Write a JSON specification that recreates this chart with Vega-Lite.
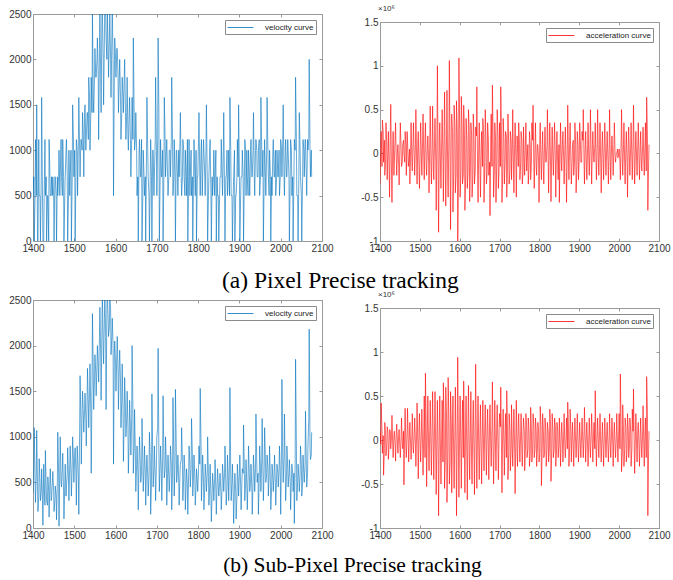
{
"$schema": "https://vega.github.io/schema/vega-lite/v6.json",
"background": "white",
"padding": {"left": 8, "top": 4, "right": 3, "bottom": 2},
"config": {
 "font": "Liberation Sans",
 "view": {"stroke": "#9a9a9a", "strokeWidth": 1},
 "axis": {"domain": false, "grid": false, "tickColor": "#9a9a9a", "tickSize": -3, "labelPadding": 5, "labelFontSize": 10, "labelColor": "#333", "labelFont": "Liberation Sans", "labelFlush": false},
 "legend": {"offset": 6, "labelFontSize": 8, "labelColor": "#222", "labelFont": "Liberation Sans", "symbolType": "M-2.6,0H2.6", "symbolSize": 100, "symbolOffset": 8, "symbolStrokeWidth": 0.8, "padding": 2, "strokeColor": "#8a8a8a", "fillColor": "white", "labelOffset": 19, "cornerRadius": 0},
 "title": {"font": "Liberation Serif", "fontSize": 22, "fontWeight": "normal", "color": "#000"}
},
"datasets": {"tr": [
{"f":1400,"a":500,"b":-0.35,"c":380,"d":0.1},{"f":1403,"a":0,"b":0.25,"c":1100,"d":0.42},{"f":1406,"a":1118,"b":0.38,"c":280,"d":-0.15},{"f":1409,"a":1500,"b":-0.1,"c":1070,"d":-0.4},{"f":1412,"a":0,"b":-0.25,"c":180,"d":0.2},{"f":1415,"a":500,"b":0.35,"c":760,"d":-0.18},{"f":1418,"a":0,"b":-0.3,"c":300,"d":0.15},{"f":1421,"a":1581,"b":0.25,"c":650,"d":-0.22},{"f":1424,"a":0,"b":-0.5,"c":30,"d":0.12},{"f":1427,"a":500,"b":0.56,"c":480,"d":-0.1},
{"f":1430,"a":500,"b":-0.56,"c":850,"d":0.28},{"f":1433,"a":0,"b":0.25,"c":300,"d":-0.2},{"f":1436,"a":500,"b":-0.1,"c":560,"d":0.1},{"f":1439,"a":1118,"b":0.35,"c":120,"d":-0.24},{"f":1442,"a":500,"b":-0.25,"c":650,"d":0.18},{"f":1445,"a":707,"b":0.1,"c":330,"d":-0.15},{"f":1448,"a":707,"b":-0.36,"c":620,"d":0.12},{"f":1451,"a":0,"b":0.35,"c":180,"d":-0.2},{"f":1454,"a":707,"b":-0.15,"c":460,"d":0.25},{"f":1457,"a":0,"b":0.1,"c":90,"d":-0.1},
{"f":1460,"a":500,"b":0,"c":1050,"d":-0.51},{"f":1463,"a":1000,"b":0.25,"c":20,"d":0.36},{"f":1466,"a":707,"b":-0.25,"c":1000,"d":-0.2},{"f":1469,"a":707,"b":0.15,"c":450,"d":0.36},{"f":1472,"a":1118,"b":-0.1,"c":820,"d":-0.25},{"f":1475,"a":0,"b":-0.35,"c":100,"d":0.2},{"f":1478,"a":707,"b":0.35,"c":700,"d":-0.22},{"f":1481,"a":1118,"b":-0.2,"c":450,"d":0.3},{"f":1484,"a":0,"b":0.35,"c":880,"d":-0.15},{"f":1487,"a":1000,"b":-0.25,"c":300,"d":0.25},
{"f":1490,"a":707,"b":0.5,"c":900,"d":-0.3},{"f":1493,"a":0,"b":-0.35,"c":350,"d":0.42},{"f":1496,"a":1500,"b":0.25,"c":1000,"d":-0.44},{"f":1499,"a":707,"b":-0.4,"c":500,"d":0.3},{"f":1502,"a":0,"b":0.35,"c":880,"d":-0.25},{"f":1505,"a":1118,"b":-0.25,"c":250,"d":0.35},{"f":1508,"a":500,"b":0.45,"c":800,"d":-0.4},{"f":1511,"a":1581,"b":-0.3,"c":150,"d":0.5},{"f":1514,"a":707,"b":0.35,"c":1670,"d":0.76},{"f":1517,"a":1118,"b":-0.25,"c":700,"d":-0.53},
{"f":1520,"a":1414,"b":0.2,"c":1500,"d":0.5},{"f":1523,"a":707,"b":-0.45,"c":1050,"d":-0.35},{"f":1526,"a":1500,"b":0.54,"c":1480,"d":0.45},{"f":1529,"a":1118,"b":-0.35,"c":900,"d":-0.4},{"f":1532,"a":1414,"b":0.54,"c":1750,"d":0.55},{"f":1535,"a":1803,"b":-0.3,"c":1100,"d":-0.45},{"f":1538,"a":1000,"b":0.4,"c":1800,"d":0.55},{"f":1541,"a":1803,"b":-0.65,"c":600,"d":-0.62},{"f":1544,"a":2500,"b":1.0,"c":2350,"d":0.45},{"f":1547,"a":1414,"b":-0.9,"c":1300,"d":-0.86},
{"f":1550,"a":2121,"b":0.35,"c":1900,"d":0.5},{"f":1553,"a":1803,"b":-0.4,"c":1450,"d":-0.5},{"f":1556,"a":2236,"b":0.5,"c":2000,"d":0.45},{"f":1559,"a":1118,"b":-0.55,"c":1600,"d":0.65},{"f":1562,"a":2500,"b":0.7,"c":2420,"d":-0.55},{"f":1565,"a":1414,"b":-0.6,"c":1400,"d":0.6},{"f":1568,"a":2550,"b":0.72,"c":2600,"d":-0.71},{"f":1571,"a":1500,"b":-0.5,"c":1800,"d":0.71},{"f":1574,"a":2828,"b":1.06,"c":2600,"d":-0.5},{"f":1577,"a":2236,"b":-0.87,"c":1300,"d":0.55},
{"f":1580,"a":2550,"b":0.45,"c":2600,"d":-0.6},{"f":1583,"a":1803,"b":-0.67,"c":2100,"d":0.5},{"f":1586,"a":2500,"b":0.55,"c":2550,"d":-0.55},{"f":1589,"a":1581,"b":-0.45,"c":1900,"d":0.6},{"f":1592,"a":2550,"b":0.6,"c":2300,"d":-0.86},{"f":1595,"a":500,"b":-1.1,"c":700,"d":0.94},{"f":1598,"a":2236,"b":1.09,"c":2050,"d":-0.65},{"f":1601,"a":1803,"b":-0.5,"c":1500,"d":0.5},{"f":1604,"a":2121,"b":0.65,"c":2100,"d":-0.55},{"f":1607,"a":1414,"b":-0.35,"c":1300,"d":0.45},
{"f":1610,"a":2000,"b":0.55,"c":1950,"d":0.67},{"f":1613,"a":1118,"b":-0.65,"c":1100,"d":-0.6},{"f":1616,"a":1803,"b":0.4,"c":1800,"d":0.5},{"f":1619,"a":1414,"b":-0.4,"c":730,"d":-0.68},{"f":1622,"a":2000,"b":0.5,"c":1650,"d":0.62},{"f":1625,"a":1118,"b":-0.55,"c":1000,"d":-0.45},{"f":1628,"a":1803,"b":0.35,"c":1500,"d":0.55},{"f":1631,"a":1000,"b":-0.5,"c":600,"d":-0.5},{"f":1634,"a":1581,"b":0.45,"c":1400,"d":0.45},{"f":1637,"a":707,"b":-0.35,"c":800,"d":-0.62},
{"f":1640,"a":1581,"b":0.3,"c":2000,"d":0.86},{"f":1643,"a":2236,"b":0.76,"c":600,"d":-0.55},{"f":1646,"a":1000,"b":-0.56,"c":1300,"d":0.5},{"f":1649,"a":1414,"b":0.35,"c":400,"d":-0.45},{"f":1652,"a":500,"b":-0.5,"c":900,"d":0.4},{"f":1655,"a":0,"b":0.25,"c":200,"d":-0.5},{"f":1658,"a":1118,"b":0.4,"c":1000,"d":0.45},{"f":1661,"a":707,"b":-0.56,"c":500,"d":-0.35},{"f":1664,"a":0,"b":0.5,"c":1200,"d":0.4},{"f":1667,"a":1000,"b":-0.35,"c":400,"d":-0.4},
{"f":1670,"a":500,"b":0.35,"c":900,"d":0.35},{"f":1673,"a":0,"b":-0.25,"c":250,"d":-0.45},{"f":1676,"a":1581,"b":-0.71,"c":800,"d":0.4},{"f":1679,"a":707,"b":0.45,"c":350,"d":-0.3},{"f":1682,"a":0,"b":0.78,"c":1050,"d":0.66},{"f":1685,"a":1118,"b":-0.5,"c":150,"d":-0.5},{"f":1688,"a":0,"b":0.35,"c":1470,"d":0.45},{"f":1691,"a":1000,"b":-0.56,"c":450,"d":-0.35},{"f":1694,"a":707,"b":0.5,"c":900,"d":0.4},{"f":1697,"a":1803,"b":-0.4,"c":300,"d":-0.45},
{"f":1700,"a":500,"b":0.35,"c":1000,"d":0.3},{"f":1703,"a":2236,"b":0.76,"c":1970,"d":0.6},{"f":1706,"a":0,"b":-0.56,"c":400,"d":-0.6},{"f":1709,"a":1118,"b":0.4,"c":900,"d":0.35},{"f":1712,"a":707,"b":-0.35,"c":300,"d":-0.4},{"f":1715,"a":0,"b":0.25,"c":1450,"d":0.3},{"f":1718,"a":1581,"b":-0.5,"c":550,"d":0.56},{"f":1721,"a":707,"b":0.45,"c":1000,"d":-0.45},{"f":1724,"a":1118,"b":-0.35,"c":250,"d":0.3},{"f":1727,"a":500,"b":0.25,"c":800,"d":-0.35},
{"f":1730,"a":1000,"b":-0.3,"c":400,"d":0.4},{"f":1733,"a":707,"b":0.5,"c":900,"d":-0.3},{"f":1736,"a":1803,"b":-0.45,"c":200,"d":0.35},{"f":1739,"a":500,"b":0.35,"c":1430,"d":-0.61},{"f":1742,"a":1118,"b":-0.5,"c":350,"d":0.45},{"f":1745,"a":0,"b":0.1,"c":1520,"d":-0.3},{"f":1748,"a":1000,"b":0.35,"c":500,"d":0.3},{"f":1751,"a":500,"b":-0.3,"c":800,"d":-0.25},{"f":1754,"a":707,"b":0.25,"c":250,"d":0.3},{"f":1757,"a":1414,"b":-0.35,"c":700,"d":-0.3},
{"f":1760,"a":500,"b":0.3,"c":1100,"d":0.25},{"f":1763,"a":1118,"b":-0.25,"c":300,"d":-0.35},{"f":1766,"a":707,"b":0.35,"c":800,"d":0.3},{"f":1769,"a":1000,"b":-0.1,"c":200,"d":-0.2},{"f":1772,"a":500,"b":-0.35,"c":650,"d":0.25},{"f":1775,"a":0,"b":0.25,"c":150,"d":-0.3},{"f":1778,"a":1118,"b":-0.3,"c":900,"d":0.37},{"f":1781,"a":707,"b":0.35,"c":450,"d":-0.25},{"f":1784,"a":500,"b":0.55,"c":1200,"d":0.3},{"f":1787,"a":0,"b":-0.4,"c":350,"d":-0.2},
{"f":1790,"a":1118,"b":0.35,"c":800,"d":0.25},{"f":1793,"a":500,"b":-0.25,"c":250,"d":-0.3},{"f":1796,"a":0,"b":0.1,"c":650,"d":0.2},{"f":1799,"a":707,"b":-0.56,"c":400,"d":-0.25},{"f":1802,"a":1414,"b":0.35,"c":900,"d":0.38},{"f":1805,"a":500,"b":-0.3,"c":1530,"d":-0.52},{"f":1808,"a":1118,"b":0.25,"c":300,"d":0.3},{"f":1811,"a":707,"b":-0.35,"c":800,"d":-0.2},{"f":1814,"a":1000,"b":0.3,"c":200,"d":0.25},{"f":1817,"a":500,"b":-0.1,"c":700,"d":-0.3},
{"f":1820,"a":1500,"b":0.5,"c":400,"d":0.2},{"f":1823,"a":0,"b":-0.45,"c":1000,"d":-0.25},{"f":1826,"a":707,"b":0.35,"c":250,"d":0.35},{"f":1829,"a":1118,"b":-0.55,"c":700,"d":-0.47},{"f":1832,"a":0,"b":0.3,"c":70,"d":0.3},{"f":1835,"a":500,"b":-0.25,"c":600,"d":-0.2},{"f":1838,"a":1000,"b":0.35,"c":300,"d":0.25},{"f":1841,"a":707,"b":-0.5,"c":750,"d":-0.3},{"f":1844,"a":0,"b":0.25,"c":150,"d":0.2},{"f":1847,"a":500,"b":-0.3,"c":650,"d":-0.2},
{"f":1850,"a":0,"b":-0.56,"c":350,"d":0.25},{"f":1853,"a":707,"b":0.35,"c":600,"d":-0.3},{"f":1856,"a":1118,"b":-0.2,"c":200,"d":0.2},{"f":1859,"a":500,"b":0.25,"c":700,"d":-0.25},{"f":1862,"a":1414,"b":-0.35,"c":400,"d":0.3},{"f":1865,"a":0,"b":0.3,"c":900,"d":-0.2},{"f":1868,"a":707,"b":-0.56,"c":250,"d":0.25},{"f":1871,"a":500,"b":0.55,"c":800,"d":0.43},{"f":1874,"a":1000,"b":-0.3,"c":300,"d":-0.3},{"f":1877,"a":1581,"b":0.35,"c":1540,"d":0.35},
{"f":1880,"a":500,"b":-0.35,"c":300,"d":-0.25},{"f":1883,"a":0,"b":0.1,"c":700,"d":0.2},{"f":1886,"a":707,"b":-0.25,"c":50,"d":-0.3},{"f":1889,"a":0,"b":0.35,"c":600,"d":0.25},{"f":1892,"a":500,"b":-0.45,"c":100,"d":-0.2},{"f":1895,"a":1118,"b":0.25,"c":700,"d":0.3},{"f":1898,"a":1500,"b":-0.3,"c":350,"d":-0.25},{"f":1901,"a":0,"b":0.35,"c":800,"d":0.2},{"f":1904,"a":707,"b":-0.1,"c":200,"d":-0.2},{"f":1907,"a":1000,"b":0.25,"c":650,"d":0.25},
{"f":1910,"a":0,"b":0.5,"c":1130,"d":-0.2},{"f":1913,"a":1118,"b":-0.35,"c":300,"d":0.37},{"f":1916,"a":500,"b":0.25,"c":750,"d":-0.25},{"f":1919,"a":707,"b":-0.3,"c":200,"d":0.2},{"f":1922,"a":1000,"b":0.35,"c":900,"d":-0.3},{"f":1925,"a":500,"b":-0.25,"c":400,"d":0.25},{"f":1928,"a":1118,"b":0.5,"c":700,"d":-0.2},{"f":1931,"a":707,"b":-0.35,"c":150,"d":0.3},{"f":1934,"a":1414,"b":0.25,"c":800,"d":-0.25},{"f":1937,"a":500,"b":-0.1,"c":400,"d":0.2},
{"f":1940,"a":1118,"b":0.35,"c":1250,"d":0.56},{"f":1943,"a":707,"b":-0.3,"c":500,"d":-0.3},{"f":1946,"a":1000,"b":0.5,"c":150,"d":0.25},{"f":1949,"a":500,"b":-0.25,"c":900,"d":-0.2},{"f":1952,"a":1581,"b":0.35,"c":400,"d":0.3},{"f":1955,"a":707,"b":-0.45,"c":1200,"d":-0.25},{"f":1958,"a":0,"b":0.25,"c":300,"d":0.2},{"f":1961,"a":1118,"b":-0.3,"c":1100,"d":-0.3},{"f":1964,"a":500,"b":0.35,"c":500,"d":0.25},{"f":1967,"a":1581,"b":-0.25,"c":800,"d":-0.2},
{"f":1970,"a":707,"b":0.25,"c":350,"d":0.2},{"f":1973,"a":1000,"b":-0.35,"c":900,"d":-0.25},{"f":1976,"a":0,"b":0.5,"c":200,"d":0.3},{"f":1979,"a":500,"b":-0.3,"c":700,"d":-0.2},{"f":1982,"a":1118,"b":0.2,"c":400,"d":0.25},{"f":1985,"a":707,"b":-0.25,"c":800,"d":-0.3},{"f":1988,"a":500,"b":0.35,"c":250,"d":0.2},{"f":1991,"a":1000,"b":-0.1,"c":700,"d":-0.2},{"f":1994,"a":707,"b":0,"c":450,"d":0.3},{"f":1997,"a":500,"b":-0.05,"c":900,"d":-0.25},
{"f":2000,"a":1118,"b":0.05,"c":150,"d":0.3},{"f":2003,"a":707,"b":-0.3,"c":1630,"d":0.75},{"f":2006,"a":1500,"b":0.5,"c":500,"d":-0.36},{"f":2009,"a":500,"b":-0.25,"c":1250,"d":0.4},{"f":2012,"a":1118,"b":0.35,"c":300,"d":-0.3},{"f":2015,"a":707,"b":-0.35,"c":900,"d":0.25},{"f":2018,"a":1000,"b":0.25,"c":450,"d":-0.25},{"f":2021,"a":0,"b":-0.5,"c":750,"d":0.3},{"f":2024,"a":1118,"b":0.3,"c":200,"d":-0.2},{"f":2027,"a":500,"b":-0.25,"c":700,"d":0.25},
{"f":2030,"a":0,"b":0.35,"c":400,"d":-0.3},{"f":2033,"a":1118,"b":-0.3,"c":50,"d":0.35},{"f":2036,"a":1803,"b":0.55,"c":1850,"d":0.58},{"f":2039,"a":500,"b":-0.35,"c":300,"d":-0.38},{"f":2042,"a":0,"b":0.25,"c":700,"d":0.3},{"f":2045,"a":1414,"b":-0.25,"c":400,"d":-0.25},{"f":2048,"a":707,"b":0.35,"c":900,"d":0.2},{"f":2051,"a":0,"b":-0.3,"c":350,"d":-0.3},{"f":2054,"a":1118,"b":0.25,"c":800,"d":0.25},{"f":2057,"a":707,"b":-0.2,"c":500,"d":-0.2},
{"f":2060,"a":1118,"b":0.3,"c":1280,"d":0.39},{"f":2063,"a":500,"b":-0.25,"c":450,"d":-0.3},{"f":2066,"a":1000,"b":0.35,"c":900,"d":0.25},{"f":2069,"a":2000,"b":0.64,"c":2180,"d":0.72},{"f":2072,"a":707,"b":-0.65,"c":750,"d":-0.86},{"f":2075,"a":707,"b":0.1,"c":1050,"d":0.1},
{"f":1402,"a":707,"b":0.1,"c":700,"d":-0.05},{"f":1405,"a":500,"b":-0.15,"c":500,"d":0.1},{"f":1408,"a":500,"b":0.25,"c":600,"d":0.05},{"f":1411,"a":0,"b":0.15,"c":450,"d":-0.1},{"f":1414,"a":1118,"b":-0.1,"c":350,"d":0.05},{"f":1417,"a":500,"b":0.1,"c":500,"d":-0.05},{"f":1420,"a":707,"b":0.05,"c":400,"d":0.08},{"f":1423,"a":500,"b":-0.2,"c":300,"d":-0.05},{"f":1426,"a":0,"b":0.3,"c":700,"d":0.1},{"f":1429,"a":1118,"b":-0.25,"c":250,"d":0.05},
{"f":1432,"a":707,"b":0.1,"c":450,"d":-0.08},{"f":1435,"a":500,"b":-0.25,"c":250,"d":0.05},{"f":1438,"a":0,"b":0.2,"c":400,"d":-0.05},{"f":1441,"a":707,"b":-0.1,"c":550,"d":0.1},{"f":1444,"a":500,"b":0.05,"c":300,"d":-0.05},{"f":1447,"a":500,"b":-0.15,"c":500,"d":0.06},{"f":1450,"a":500,"b":0.1,"c":400,"d":-0.1},{"f":1453,"a":707,"b":0.05,"c":300,"d":0.05},{"f":1456,"a":500,"b":-0.1,"c":350,"d":-0.05},{"f":1459,"a":707,"b":0.15,"c":500,"d":0.1},
{"f":1462,"a":707,"b":-0.1,"c":600,"d":0.1},{"f":1465,"a":500,"b":0.1,"c":700,"d":-0.1},{"f":1468,"a":1118,"b":0.25,"c":500,"d":0.08},{"f":1471,"a":500,"b":-0.15,"c":650,"d":-0.05},{"f":1474,"a":707,"b":0.05,"c":400,"d":0.1},{"f":1477,"a":500,"b":0.1,"c":500,"d":-0.08},{"f":1480,"a":1000,"b":-0.1,"c":350,"d":0.05},{"f":1483,"a":707,"b":0.15,"c":600,"d":-0.1},{"f":1486,"a":500,"b":-0.05,"c":550,"d":0.08},{"f":1489,"a":500,"b":0.1,"c":700,"d":-0.05},
{"f":1492,"a":1000,"b":-0.1,"c":600,"d":0.1},{"f":1495,"a":707,"b":0.15,"c":700,"d":-0.1},{"f":1498,"a":1118,"b":-0.2,"c":750,"d":0.15},{"f":1501,"a":1000,"b":0.1,"c":800,"d":-0.1},{"f":1504,"a":707,"b":-0.05,"c":600,"d":0.12},{"f":1507,"a":1000,"b":0.15,"c":900,"d":-0.1},{"f":1510,"a":1118,"b":-0.1,"c":550,"d":0.15},{"f":1513,"a":1000,"b":0.2,"c":1100,"d":-0.2},{"f":1516,"a":1118,"b":-0.15,"c":1200,"d":0.1},{"f":1519,"a":1000,"b":0.1,"c":1300,"d":0.15},
{"f":1522,"a":1118,"b":-0.1,"c":1250,"d":-0.1},{"f":1525,"a":1414,"b":0.2,"c":1300,"d":0.15},{"f":1528,"a":1000,"b":-0.15,"c":1200,"d":-0.15},{"f":1531,"a":1414,"b":0.1,"c":1400,"d":0.2},{"f":1534,"a":1118,"b":-0.2,"c":1350,"d":-0.15},{"f":1537,"a":1581,"b":0.15,"c":1500,"d":0.2},{"f":1540,"a":1414,"b":-0.1,"c":1250,"d":-0.2},{"f":1543,"a":1414,"b":0.25,"c":1600,"d":0.15},{"f":1546,"a":1581,"b":-0.3,"c":1700,"d":-0.25},{"f":1549,"a":1803,"b":0.2,"c":1650,"d":0.2},
{"f":1552,"a":1803,"b":-0.2,"c":1700,"d":-0.2},{"f":1555,"a":2000,"b":0.25,"c":1800,"d":0.15},{"f":1558,"a":1803,"b":-0.1,"c":1750,"d":-0.25},{"f":1561,"a":2121,"b":0.3,"c":2100,"d":0.2},{"f":1564,"a":1803,"b":-0.25,"c":1900,"d":-0.2},{"f":1567,"a":2500,"b":0.2,"c":2200,"d":0.25},{"f":1570,"a":2000,"b":-0.3,"c":2000,"d":-0.15},{"f":1573,"a":2236,"b":0.25,"c":2300,"d":0.2},{"f":1576,"a":2500,"b":-0.2,"c":2100,"d":-0.25},{"f":1579,"a":2000,"b":0.3,"c":2400,"d":0.15},
{"f":1582,"a":2121,"b":0.25,"c":2300,"d":0.2},{"f":1585,"a":2236,"b":-0.2,"c":2200,"d":-0.25},{"f":1588,"a":2000,"b":0.3,"c":2400,"d":0.15},{"f":1591,"a":2236,"b":-0.25,"c":2100,"d":-0.2},{"f":1594,"a":2000,"b":0.2,"c":2000,"d":0.25},{"f":1597,"a":1803,"b":-0.3,"c":1900,"d":-0.2},{"f":1600,"a":2000,"b":0.25,"c":1800,"d":0.2},{"f":1603,"a":2121,"b":-0.2,"c":1900,"d":-0.15},{"f":1606,"a":1803,"b":0.3,"c":1700,"d":0.2},{"f":1609,"a":1803,"b":-0.25,"c":1800,"d":-0.2},
{"f":1612,"a":1581,"b":0.2,"c":1600,"d":-0.2},{"f":1615,"a":1414,"b":-0.25,"c":1400,"d":0.25},{"f":1618,"a":1581,"b":0.15,"c":1300,"d":-0.2},{"f":1621,"a":1803,"b":-0.2,"c":1200,"d":0.3},{"f":1624,"a":1414,"b":0.25,"c":1300,"d":-0.25},{"f":1627,"a":1414,"b":-0.15,"c":1200,"d":0.2},{"f":1630,"a":1118,"b":0.2,"c":1100,"d":-0.3},{"f":1633,"a":1414,"b":-0.25,"c":1000,"d":0.25},{"f":1636,"a":1118,"b":0.15,"c":1100,"d":-0.2},{"f":1639,"a":1118,"b":-0.2,"c":1200,"d":0.3},
{"f":1642,"a":1118,"b":0.2,"c":1300,"d":-0.25},{"f":1645,"a":1414,"b":-0.25,"c":900,"d":0.2},{"f":1648,"a":1118,"b":0.15,"c":800,"d":-0.2},{"f":1651,"a":1000,"b":-0.2,"c":700,"d":0.15},{"f":1654,"a":707,"b":0.1,"c":600,"d":-0.2},{"f":1657,"a":1000,"b":-0.15,"c":800,"d":0.15},{"f":1660,"a":707,"b":0.2,"c":700,"d":-0.15},{"f":1663,"a":1118,"b":-0.1,"c":600,"d":0.2},{"f":1666,"a":500,"b":0.15,"c":750,"d":-0.15},{"f":1669,"a":707,"b":-0.2,"c":650,"d":0.2},
{"f":1672,"a":707,"b":0.15,"c":600,"d":-0.15},{"f":1675,"a":1000,"b":-0.1,"c":700,"d":0.2},{"f":1678,"a":1000,"b":0.2,"c":550,"d":-0.1},{"f":1681,"a":500,"b":-0.15,"c":600,"d":0.15},{"f":1684,"a":707,"b":0.1,"c":750,"d":-0.2},{"f":1687,"a":707,"b":-0.2,"c":500,"d":0.1},{"f":1690,"a":1000,"b":0.15,"c":800,"d":-0.15},{"f":1693,"a":500,"b":-0.1,"c":650,"d":0.2},{"f":1696,"a":1118,"b":0.2,"c":550,"d":-0.1},{"f":1699,"a":1000,"b":-0.15,"c":700,"d":0.15},
{"f":1702,"a":1118,"b":-0.15,"c":1100,"d":0.15},{"f":1705,"a":1414,"b":0.1,"c":800,"d":-0.15},{"f":1708,"a":707,"b":-0.2,"c":700,"d":0.2},{"f":1711,"a":707,"b":0.15,"c":600,"d":-0.1},{"f":1714,"a":1000,"b":-0.1,"c":750,"d":0.15},{"f":1717,"a":707,"b":0.2,"c":800,"d":-0.2},{"f":1720,"a":1118,"b":-0.15,"c":650,"d":0.1},{"f":1723,"a":1000,"b":0.1,"c":700,"d":-0.15},{"f":1726,"a":707,"b":-0.2,"c":600,"d":0.1},{"f":1729,"a":707,"b":0.15,"c":550,"d":-0.1},
{"f":1732,"a":1000,"b":0.1,"c":650,"d":-0.1},{"f":1735,"a":1118,"b":-0.2,"c":700,"d":0.15},{"f":1738,"a":1118,"b":0.15,"c":600,"d":-0.15},{"f":1741,"a":707,"b":-0.1,"c":800,"d":0.1},{"f":1744,"a":707,"b":0.2,"c":700,"d":-0.15},{"f":1747,"a":1000,"b":-0.15,"c":900,"d":0.2},{"f":1750,"a":707,"b":0.1,"c":650,"d":-0.1},{"f":1753,"a":1000,"b":-0.1,"c":500,"d":0.1},{"f":1756,"a":1118,"b":0.15,"c":600,"d":-0.15},{"f":1759,"a":707,"b":-0.2,"c":750,"d":0.1},
{"f":1762,"a":707,"b":-0.1,"c":700,"d":0.1},{"f":1765,"a":1000,"b":0.15,"c":550,"d":-0.1},{"f":1768,"a":500,"b":-0.2,"c":600,"d":0.15},{"f":1771,"a":707,"b":0.1,"c":500,"d":-0.1},{"f":1774,"a":1118,"b":-0.15,"c":450,"d":0.1},{"f":1777,"a":707,"b":0.1,"c":600,"d":-0.15},{"f":1780,"a":500,"b":-0.1,"c":700,"d":0.1},{"f":1783,"a":1000,"b":0.15,"c":650,"d":-0.1},{"f":1786,"a":707,"b":-0.15,"c":800,"d":0.15},{"f":1789,"a":707,"b":0.1,"c":600,"d":-0.1},
{"f":1792,"a":707,"b":-0.15,"c":550,"d":0.1},{"f":1795,"a":1000,"b":0.1,"c":450,"d":-0.1},{"f":1798,"a":707,"b":-0.1,"c":500,"d":0.1},{"f":1801,"a":1118,"b":0.2,"c":650,"d":-0.15},{"f":1804,"a":707,"b":-0.15,"c":700,"d":0.15},{"f":1807,"a":1000,"b":0.1,"c":900,"d":-0.1},{"f":1810,"a":500,"b":-0.2,"c":600,"d":0.1},{"f":1813,"a":1118,"b":0.15,"c":500,"d":-0.15},{"f":1816,"a":707,"b":-0.1,"c":450,"d":0.1},{"f":1819,"a":1000,"b":0.1,"c":550,"d":-0.1},
{"f":1822,"a":707,"b":-0.1,"c":600,"d":0.1},{"f":1825,"a":500,"b":0.15,"c":550,"d":-0.1},{"f":1828,"a":1000,"b":-0.15,"c":450,"d":0.15},{"f":1831,"a":500,"b":0.1,"c":350,"d":-0.1},{"f":1834,"a":707,"b":-0.1,"c":400,"d":0.1},{"f":1837,"a":707,"b":0.15,"c":450,"d":-0.1},{"f":1840,"a":500,"b":-0.1,"c":550,"d":0.15},{"f":1843,"a":1000,"b":0.1,"c":400,"d":-0.1},{"f":1846,"a":707,"b":-0.15,"c":500,"d":0.1},{"f":1849,"a":500,"b":0.1,"c":450,"d":-0.05},
{"f":1852,"a":500,"b":0.1,"c":500,"d":-0.1},{"f":1855,"a":707,"b":-0.1,"c":400,"d":0.1},{"f":1858,"a":707,"b":0.15,"c":450,"d":-0.05},{"f":1861,"a":1000,"b":-0.1,"c":550,"d":0.1},{"f":1864,"a":500,"b":0.1,"c":600,"d":-0.1},{"f":1867,"a":707,"b":-0.15,"c":500,"d":0.05},{"f":1870,"a":1000,"b":0.1,"c":450,"d":-0.1},{"f":1873,"a":707,"b":-0.1,"c":550,"d":0.1},{"f":1876,"a":500,"b":0.15,"c":700,"d":-0.05},{"f":1879,"a":1000,"b":-0.1,"c":600,"d":0.1},
{"f":1882,"a":500,"b":-0.1,"c":500,"d":0.05},{"f":1885,"a":500,"b":0.15,"c":350,"d":-0.1},{"f":1888,"a":1000,"b":-0.1,"c":450,"d":0.1},{"f":1891,"a":500,"b":0.1,"c":400,"d":-0.05},{"f":1894,"a":707,"b":-0.15,"c":350,"d":0.1},{"f":1897,"a":707,"b":0.1,"c":500,"d":-0.1},{"f":1900,"a":707,"b":-0.05,"c":600,"d":0.05},{"f":1903,"a":500,"b":0.1,"c":450,"d":-0.1},{"f":1906,"a":707,"b":-0.1,"c":500,"d":0.1},{"f":1909,"a":707,"b":0.15,"c":600,"d":-0.05},
{"f":1912,"a":707,"b":-0.1,"c":600,"d":0.1},{"f":1915,"a":1000,"b":0.1,"c":500,"d":-0.05},{"f":1918,"a":1000,"b":-0.15,"c":450,"d":0.1},{"f":1921,"a":500,"b":0.1,"c":550,"d":-0.1},{"f":1924,"a":707,"b":-0.1,"c":600,"d":0.05},{"f":1927,"a":1000,"b":0.15,"c":500,"d":-0.1},{"f":1930,"a":707,"b":-0.1,"c":450,"d":0.1},{"f":1933,"a":1000,"b":0.1,"c":500,"d":-0.05},{"f":1936,"a":707,"b":-0.05,"c":600,"d":0.1},{"f":1939,"a":1000,"b":0.1,"c":650,"d":-0.1},
{"f":1942,"a":1000,"b":-0.1,"c":700,"d":-0.1},{"f":1945,"a":707,"b":0.15,"c":600,"d":0.1},{"f":1948,"a":1118,"b":-0.1,"c":550,"d":-0.05},{"f":1951,"a":707,"b":0.1,"c":650,"d":0.1},{"f":1954,"a":1000,"b":-0.15,"c":750,"d":-0.1},{"f":1957,"a":1000,"b":0.1,"c":600,"d":0.05},{"f":1960,"a":707,"b":-0.1,"c":650,"d":-0.1},{"f":1963,"a":707,"b":0.15,"c":750,"d":0.1},{"f":1966,"a":1000,"b":-0.1,"c":600,"d":-0.05},{"f":1969,"a":1000,"b":0.1,"c":650,"d":0.1},
{"f":1972,"a":500,"b":-0.1,"c":600,"d":-0.1},{"f":1975,"a":707,"b":0.1,"c":500,"d":0.05},{"f":1978,"a":707,"b":-0.15,"c":450,"d":-0.1},{"f":1981,"a":1000,"b":0.1,"c":550,"d":0.1},{"f":1984,"a":707,"b":-0.05,"c":600,"d":-0.05},{"f":1987,"a":1000,"b":0.1,"c":500,"d":0.1},{"f":1990,"a":707,"b":-0.05,"c":550,"d":-0.1},{"f":1993,"a":707,"b":0,"c":600,"d":0.05},{"f":1996,"a":1000,"b":0.05,"c":650,"d":-0.1},{"f":1999,"a":707,"b":0,"c":550,"d":0.1},
{"f":2002,"a":1000,"b":-0.1,"c":900,"d":-0.1},{"f":2005,"a":1118,"b":0.15,"c":700,"d":0.15},{"f":2008,"a":707,"b":-0.1,"c":800,"d":-0.15},{"f":2011,"a":1000,"b":0.1,"c":600,"d":0.1},{"f":2014,"a":707,"b":-0.15,"c":550,"d":-0.1},{"f":2017,"a":1118,"b":0.1,"c":650,"d":0.15},{"f":2020,"a":707,"b":-0.1,"c":600,"d":-0.1},{"f":2023,"a":707,"b":0.15,"c":500,"d":0.1},{"f":2026,"a":1000,"b":-0.1,"c":550,"d":-0.05},{"f":2029,"a":707,"b":0.1,"c":600,"d":0.1},
{"f":2032,"a":707,"b":-0.1,"c":600,"d":-0.1},{"f":2035,"a":1000,"b":0.15,"c":700,"d":0.1},{"f":2038,"a":1118,"b":-0.15,"c":900,"d":-0.15},{"f":2041,"a":500,"b":0.1,"c":500,"d":0.1},{"f":2044,"a":707,"b":-0.1,"c":550,"d":-0.1},{"f":2047,"a":1000,"b":0.15,"c":600,"d":0.15},{"f":2050,"a":500,"b":-0.1,"c":700,"d":-0.1},{"f":2053,"a":707,"b":0.1,"c":500,"d":0.1},{"f":2056,"a":1000,"b":-0.15,"c":600,"d":-0.1},{"f":2059,"a":1118,"b":0.1,"c":700,"d":0.1},
{"f":2062,"a":707,"b":-0.1,"c":700,"d":-0.1},{"f":2065,"a":1118,"b":0.15,"c":600,"d":0.15},{"f":2068,"a":1118,"b":-0.2,"c":1200,"d":-0.2},{"f":2071,"a":1000,"b":0.2,"c":900,"d":0.3},{"f":2074,"a":1000,"b":-0.1,"c":800,"d":-0.1}
]},
"spacing": -2,
"resolve": {"scale": {"x": "independent", "y": "independent", "color": "shared"}, "legend": {"color": "independent"}},
"vconcat": [
 {
  "title": {"text": "(a) Pixel Precise tracking", "orient": "bottom", "anchor": "middle", "baseline": "alphabetic", "offset": 34, "dx": 1, "fontSize": 23.5},
  "bounds": "flush",
  "spacing": 58,
  "resolve": {"scale": {"x": "independent", "y": "independent", "color": "shared"}, "legend": {"color": "independent"}},
  "hconcat": [
   {
    "width": 289, "height": 227,
    "data": {"name": "tr"},
    "layer": [
     {"mark": {"type": "line", "clip": true, "strokeWidth": 0.6},
      "encoding": {
       "x": {"field": "f", "type": "quantitative", "scale": {"domain": [1400, 2100], "nice": false, "zero": false}, "axis": {"values": [1400,1500,1600,1700,1800,1900,2000,2100], "format": "d", "title": null}},
       "y": {"field": "a", "type": "quantitative", "scale": {"domain": [0, 2500], "nice": false}, "axis": {"values": [0,500,1000,1500,2000,2500], "format": "d", "title": null}},
       "color": {"datum": "velocity curve", "type": "nominal", "scale": {"domain": ["velocity curve", "acceleration curve"], "range": ["#0072BD", "#FF0000"]}, "legend": {"title": null, "orient": "top-right", "offset": 6, "values": ["velocity curve"], "symbolStrokeColor": "#0072BD"}}
      }},
     {"mark": {"type": "line", "opacity": 0, "clip": true},
      "encoding": {
       "x": {"field": "f", "type": "quantitative", "axis": {"orient": "top", "labels": false, "values": [1400,1500,1600,1700,1800,1900,2000,2100], "title": null}},
       "y": {"field": "a", "type": "quantitative", "axis": {"orient": "right", "labels": false, "values": [0,500,1000,1500,2000,2500], "title": null}}
      }}
    ],
    "resolve": {"axis": {"x": "independent", "y": "independent"}}
   },
   {
    "bounds": "flush",
    "spacing": 0,
    "resolve": {"scale": {"x": "independent", "y": "independent", "color": "shared"}, "legend": {"color": "independent"}},
    "vconcat": [
     {"width": 279, "height": 8, "view": {"stroke": null}, "data": {"values": [{"k": 0}]}, "mark": {"type": "point", "opacity": 0, "size": 1}, "encoding": {}},
     {
      "width": 279, "height": 219,
      "title": {"text": "×10⁶", "anchor": "start", "frame": "group", "font": "Liberation Sans", "fontSize": 8, "color": "#333", "offset": 4, "dx": -2},
      "data": {"name": "tr"},
      "layer": [
       {"mark": {"type": "line", "clip": true, "strokeWidth": 0.6},
        "encoding": {
         "x": {"field": "f", "type": "quantitative", "scale": {"domain": [1400, 2100], "nice": false, "zero": false}, "axis": {"values": [1400,1500,1600,1700,1800,1900,2000,2100], "format": "d", "title": null}},
         "y": {"field": "b", "type": "quantitative", "scale": {"domain": [-1, 1.5], "nice": false}, "axis": {"values": [-1,-0.5,0,0.5,1,1.5], "labelExpr": "datum.value + ''", "title": null}},
         "color": {"datum": "acceleration curve", "type": "nominal", "scale": {"domain": ["velocity curve", "acceleration curve"], "range": ["#0072BD", "#FF0000"]}, "legend": {"title": null, "orient": "top-right", "offset": 6, "values": ["acceleration curve"], "symbolStrokeColor": "#FF0000"}}
        }},
       {"mark": {"type": "line", "opacity": 0, "clip": true},
        "encoding": {
         "x": {"field": "f", "type": "quantitative", "axis": {"orient": "top", "labels": false, "values": [1400,1500,1600,1700,1800,1900,2000,2100], "title": null}},
         "y": {"field": "b", "type": "quantitative", "axis": {"orient": "right", "labels": false, "values": [-1,-0.5,0,0.5,1,1.5], "title": null}}
        }}
      ],
      "resolve": {"axis": {"x": "independent", "y": "independent"}}
     }
    ]
   }
  ]
 },
 {
  "title": {"text": "(b) Sub-Pixel Precise tracking", "orient": "bottom", "anchor": "middle", "baseline": "alphabetic", "offset": 31, "dx": 13, "fontSize": 21.5},
  "bounds": "flush",
  "spacing": 58,
  "resolve": {"scale": {"x": "independent", "y": "independent", "color": "shared"}, "legend": {"color": "independent"}},
  "hconcat": [
   {
    "width": 289, "height": 228,
    "data": {"name": "tr"},
    "layer": [
     {"mark": {"type": "line", "clip": true, "strokeWidth": 0.6},
      "encoding": {
       "x": {"field": "f", "type": "quantitative", "scale": {"domain": [1400, 2100], "nice": false, "zero": false}, "axis": {"values": [1400,1500,1600,1700,1800,1900,2000,2100], "format": "d", "title": null}},
       "y": {"field": "c", "type": "quantitative", "scale": {"domain": [0, 2500], "nice": false}, "axis": {"values": [0,500,1000,1500,2000,2500], "format": "d", "title": null}},
       "color": {"datum": "velocity curve", "type": "nominal", "scale": {"domain": ["velocity curve", "acceleration curve"], "range": ["#0072BD", "#FF0000"]}, "legend": {"title": null, "orient": "top-right", "offset": 6, "values": ["velocity curve"], "symbolStrokeColor": "#0072BD"}}
      }},
     {"mark": {"type": "line", "opacity": 0, "clip": true},
      "encoding": {
       "x": {"field": "f", "type": "quantitative", "axis": {"orient": "top", "labels": false, "values": [1400,1500,1600,1700,1800,1900,2000,2100], "title": null}},
       "y": {"field": "c", "type": "quantitative", "axis": {"orient": "right", "labels": false, "values": [0,500,1000,1500,2000,2500], "title": null}}
      }}
    ],
    "resolve": {"axis": {"x": "independent", "y": "independent"}}
   },
   {
    "bounds": "flush",
    "spacing": 0,
    "resolve": {"scale": {"x": "independent", "y": "independent", "color": "shared"}, "legend": {"color": "independent"}},
    "vconcat": [
     {"width": 279, "height": 8, "view": {"stroke": null}, "data": {"values": [{"k": 0}]}, "mark": {"type": "point", "opacity": 0, "size": 1}, "encoding": {}},
     {
      "width": 279, "height": 220,
      "title": {"text": "×10⁶", "anchor": "start", "frame": "group", "font": "Liberation Sans", "fontSize": 8, "color": "#333", "offset": 4, "dx": -2},
      "data": {"name": "tr"},
      "layer": [
       {"mark": {"type": "line", "clip": true, "strokeWidth": 0.6},
        "encoding": {
         "x": {"field": "f", "type": "quantitative", "scale": {"domain": [1400, 2100], "nice": false, "zero": false}, "axis": {"values": [1400,1500,1600,1700,1800,1900,2000,2100], "format": "d", "title": null}},
         "y": {"field": "d", "type": "quantitative", "scale": {"domain": [-1, 1.5], "nice": false}, "axis": {"values": [-1,-0.5,0,0.5,1,1.5], "labelExpr": "datum.value + ''", "title": null}},
         "color": {"datum": "acceleration curve", "type": "nominal", "scale": {"domain": ["velocity curve", "acceleration curve"], "range": ["#0072BD", "#FF0000"]}, "legend": {"title": null, "orient": "top-right", "offset": 6, "values": ["acceleration curve"], "symbolStrokeColor": "#FF0000"}}
        }},
       {"mark": {"type": "line", "opacity": 0, "clip": true},
        "encoding": {
         "x": {"field": "f", "type": "quantitative", "axis": {"orient": "top", "labels": false, "values": [1400,1500,1600,1700,1800,1900,2000,2100], "title": null}},
         "y": {"field": "d", "type": "quantitative", "axis": {"orient": "right", "labels": false, "values": [-1,-0.5,0,0.5,1,1.5], "title": null}}
        }}
      ],
      "resolve": {"axis": {"x": "independent", "y": "independent"}}
     }
    ]
   }
  ]
 }
]
}
